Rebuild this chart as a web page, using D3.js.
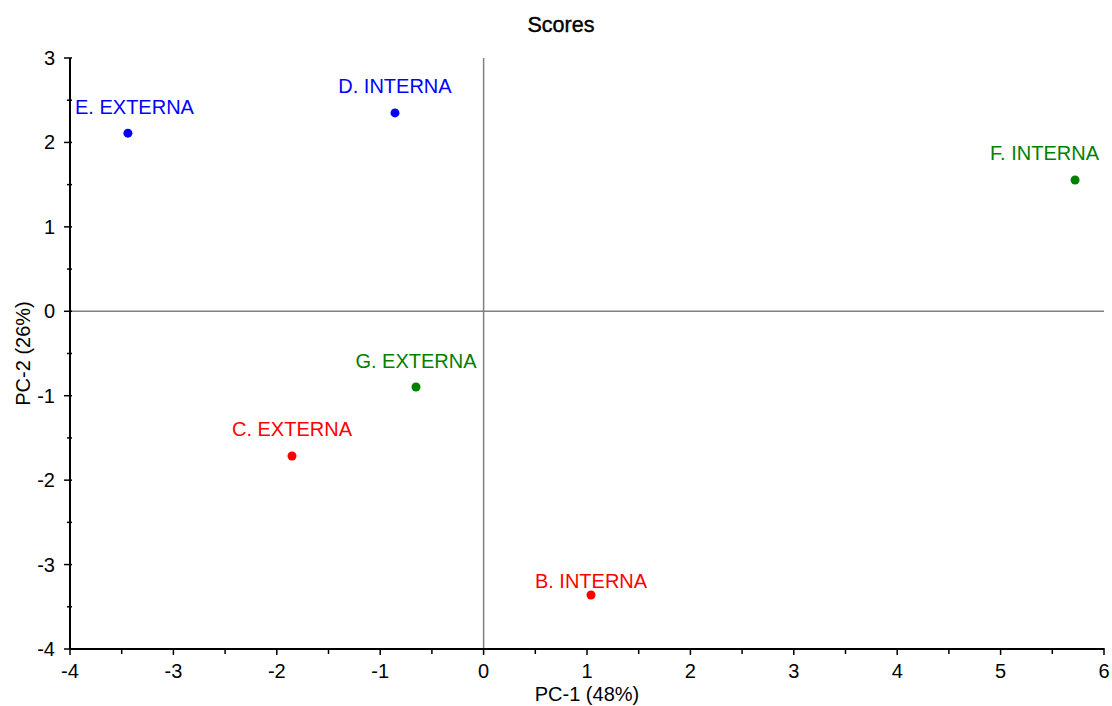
<!DOCTYPE html>
<html>
<head>
<meta charset="utf-8">
<script src="https://cdn.jsdelivr.net/npm/d3@7"></script>
<style>
  body { margin: 0; background: #fff; }
  svg { display: block; font-family: "Liberation Sans", Arial, sans-serif; }
</style>
</head>
<body>
<svg id="chart" width="1112" height="706"></svg>
<script>
// PCA scores, PC-1 vs PC-2
const sampleNames = ["E. EXTERNA", "D. INTERNA", "F. INTERNA", "G. EXTERNA", "C. EXTERNA", "B. INTERNA"];
const pc1Scores   = [-3.44, -0.857, 5.72, -0.654, -1.853, 1.039];
const pc2Scores   = [2.11, 2.35, 1.555, -0.897, -1.714, -3.36];
const sampleColors = ["#0000ff", "#0000ff", "#008000", "#008000", "#ff0000", "#ff0000"];
const xTicks = [-4, -3, -2, -1, 0, 1, 2, 3, 4, 5, 6];
const yTicks = [-4, -3, -2, -1, 0, 1, 2, 3];

const svg = d3.select("#chart");
const plotL = 70, plotR = 1104, plotT = 58, plotB = 649;
const fs = 20;

const x = d3.scaleLinear().domain([-4, 6]).range([plotL, plotR]);
const y = d3.scaleLinear().domain([-4, 3]).range([plotB, plotT]);

// zero lines
svg.append("line").attr("x1", x(0)).attr("x2", x(0)).attr("y1", plotT).attr("y2", plotB)
  .attr("stroke", "#808080").attr("stroke-width", 1.5);
svg.append("line").attr("x1", plotL).attr("x2", plotR).attr("y1", y(0)).attr("y2", y(0))
  .attr("stroke", "#808080").attr("stroke-width", 1.5);

// bottom axis
const gx = svg.append("g");
gx.append("line").attr("x1", plotL).attr("x2", plotR).attr("y1", plotB).attr("y2", plotB)
  .attr("stroke", "#000").attr("stroke-width", 2);
const xMinor = d3.range(-3.5, 6, 1);
gx.selectAll(".xmaj").data(xTicks).join("line").attr("class", "xmaj")
  .attr("x1", d => x(d)).attr("x2", d => x(d)).attr("y1", plotB - 1).attr("y2", plotB + 6)
  .attr("stroke", "#000").attr("stroke-width", 1.5);
gx.selectAll(".xmin").data(xMinor).join("line").attr("class", "xmin")
  .attr("x1", d => x(d)).attr("x2", d => x(d)).attr("y1", plotB - 1).attr("y2", plotB + 5)
  .attr("stroke", "#000").attr("stroke-width", 1.5);
gx.selectAll("text").data(xTicks).join("text")
  .attr("x", d => x(d)).attr("y", plotB + 29)
  .attr("text-anchor", "middle").attr("font-size", fs).attr("fill", "#000")
  .text(d => d);

// left axis
const gy = svg.append("g");
gy.append("line").attr("x1", plotL).attr("x2", plotL).attr("y1", plotT).attr("y2", plotB)
  .attr("stroke", "#000").attr("stroke-width", 2);
const yMinor = d3.range(-3.5, 3, 1);
gy.selectAll(".ymaj").data(yTicks).join("line").attr("class", "ymaj")
  .attr("x1", plotL - 6).attr("x2", plotL + 2).attr("y1", d => y(d)).attr("y2", d => y(d))
  .attr("stroke", "#000").attr("stroke-width", 1.5);
gy.selectAll(".ymin").data(yMinor).join("line").attr("class", "ymin")
  .attr("x1", plotL - 3).attr("x2", plotL + 2).attr("y1", d => y(d)).attr("y2", d => y(d))
  .attr("stroke", "#000").attr("stroke-width", 1.5);
gy.selectAll("text").data(yTicks).join("text")
  .attr("x", plotL - 15).attr("y", d => y(d)).attr("dy", "0.35em")
  .attr("text-anchor", "end").attr("font-size", fs).attr("fill", "#000")
  .text(d => d);

// titles
svg.append("text").attr("x", 561).attr("y", 32).attr("text-anchor", "middle")
  .attr("font-size", 21.5).attr("fill", "#000")
  .attr("stroke", "#000").attr("stroke-width", 0.4).text("Scores");
svg.append("text").attr("x", (plotL + plotR) / 2).attr("y", 701).attr("text-anchor", "middle")
  .attr("font-size", fs).attr("fill", "#000").text("PC-1 (48%)");
svg.append("text").attr("transform", `translate(30,${(plotT + plotB) / 2}) rotate(-90)`)
  .attr("text-anchor", "middle").attr("font-size", fs).attr("fill", "#000").text("PC-2 (26%)");

// points and labels
const data = sampleNames.map((n, i) => ({ name: n, px: pc1Scores[i], py: pc2Scores[i], color: sampleColors[i] }));
const g = svg.append("g");
g.selectAll("circle").data(data).join("circle")
  .attr("cx", d => x(d.px)).attr("cy", d => y(d.py)).attr("r", 4.5)
  .attr("fill", d => d.color);

// label gap above each point; the lowest label sits closer to its point
const labelGap = d => (d.name === "B. INTERNA" ? 7 : 19.5);
const labels = g.selectAll("text").data(data).join("text")
  .attr("y", d => y(d.py) - labelGap(d))
  .attr("font-size", fs).attr("fill", d => d.color)
  .text(d => d.name);
// centre each label over its point, kept inside the plot area
labels.each(function (d) {
  const w = this.getComputedTextLength();
  let lx = x(d.px) - w / 2;
  lx = Math.max(plotL + 5, Math.min(plotR - 5 - w, lx));
  d3.select(this).attr("x", lx);
});
</script>
</body>
</html>
